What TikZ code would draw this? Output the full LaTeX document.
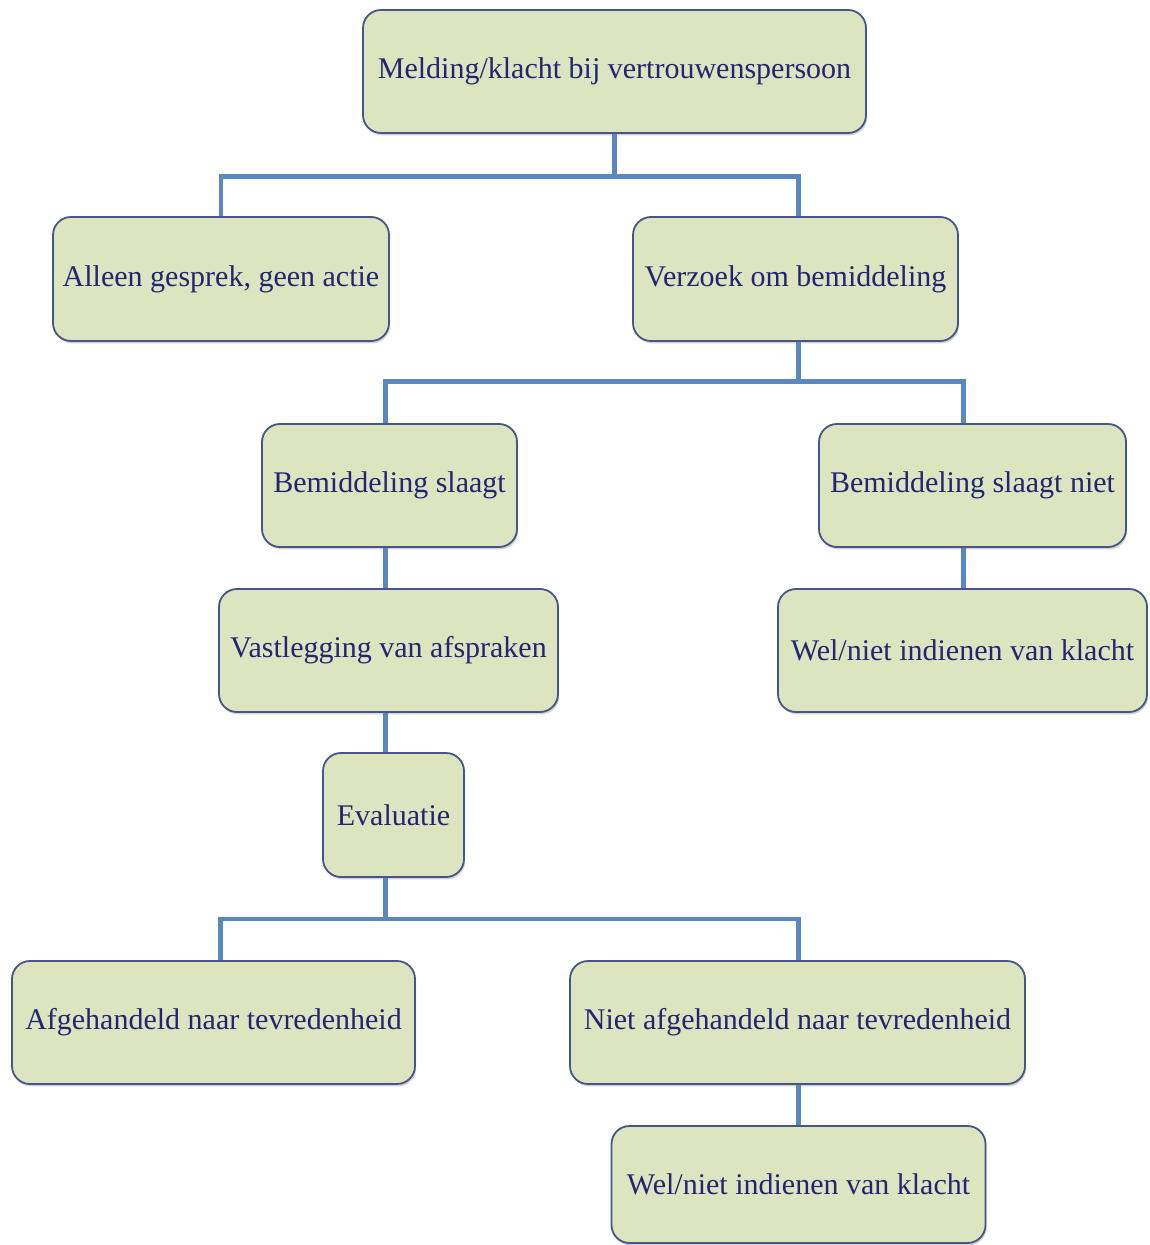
\documentclass[tikz,border=0pt]{standalone}
\usepackage{fontspec}
\setmainfont{Liberation Serif}
\usepackage{tikz}
\usetikzlibrary{shadows,backgrounds}
\definecolor{boxfill}{RGB}{221,229,192}
\definecolor{boxline}{RGB}{70,86,136}
\definecolor{linkblue}{RGB}{88,136,190}
\definecolor{textblue}{RGB}{36,36,115}

\begin{document}
\begin{tikzpicture}[x=0.5pt,y=-0.5pt,
  box/.style={draw=boxline,line width=0.9pt,fill=boxfill,rounded corners=9pt,
    drop shadow={opacity=0.35,shadow xshift=0.6pt,shadow yshift=-1.2pt},
    text=textblue,font=\fontsize{15}{17}\selectfont,inner sep=2pt},
  link/.style={draw=linkblue,line width=2.4pt}]
\useasboundingbox (0,0) rectangle (1149,1245);
\node[box,minimum width=251.5pt,minimum height=61.5pt] (melding) at (614.5,71.5) {Melding/klacht bij vertrouwenspersoon};
\node[box,minimum width=168pt,minimum height=62pt] (alleen) at (221,279) {Alleen gesprek, geen actie};
\node[box,minimum width=162.5pt,minimum height=62pt] (verzoek) at (795.5,279) {Verzoek om bemiddeling};
\node[box,minimum width=127.5pt,minimum height=61.5pt] (slaagt) at (389.5,485.5) {Bemiddeling slaagt};
\node[box,minimum width=153.5pt,minimum height=61.5pt] (slaagtniet) at (972.5,485.5) {Bemiddeling slaagt niet};
\node[box,minimum width=169.5pt,minimum height=61.5pt] (vastlegging) at (388.5,650.5) {Vastlegging van afspraken};
\node[box,minimum width=184.5pt,minimum height=61.5pt] (klachta) at (962.5,650.5) {Wel/niet indienen van klacht};
\node[box,minimum width=70.5pt,minimum height=62pt] (evaluatie) at (393.5,815) {Evaluatie};
\node[box,minimum width=201.5pt,minimum height=61.5pt] (afgehandeld) at (213.5,1022.5) {Afgehandeld naar tevredenheid};
\node[box,minimum width=227.5pt,minimum height=61.5pt] (nietafgehandeld) at (797.5,1022.5) {Niet afgehandeld naar tevredenheid};
\node[box,minimum width=187pt,minimum height=58.5pt] (klachtb) at (798.5,1184.5) {Wel/niet indienen van klacht};

\begin{scope}[on background layer]
\draw[link] (melding.south) -- ++(0,43) coordinate (splita) -| (alleen.north);
\draw[link] (splita) -| ([xshift=1.5pt]verzoek.north);
\draw[link] ([xshift=1.5pt]verzoek.south) -- ++(0,40) coordinate (splitb) -| ([xshift=-2pt]slaagt.north);
\draw[link] (splitb) -| ([xshift=-4.5pt]slaagtniet.north);
\draw[link] ([xshift=-2pt]slaagt.south) -- ([xshift=-1.5pt]vastlegging.north);
\draw[link] ([xshift=0.5pt]klachta.north) -- ([xshift=-4.5pt]slaagtniet.south);
\draw[link] ([xshift=-1.5pt]vastlegging.south) -- ([xshift=-4pt]evaluatie.north);
\draw[link] ([xshift=-4pt]evaluatie.south) -- ++(0,41) coordinate (splitc) -| ([xshift=3.5pt]afgehandeld.north);
\draw[link] (splitc) -| ([xshift=0.5pt]nietafgehandeld.north);
\draw[link] ([xshift=0.5pt]nietafgehandeld.south) -- (klachtb.north);
\end{scope}
\end{tikzpicture}
\end{document}
